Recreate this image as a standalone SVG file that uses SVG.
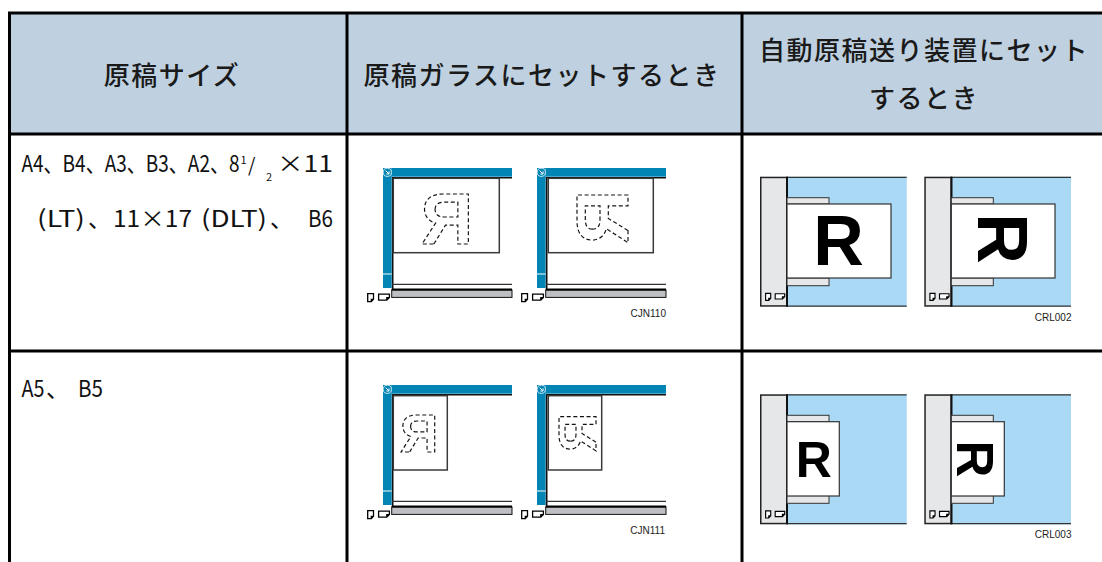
<svg xmlns="http://www.w3.org/2000/svg" width="1102" height="562" viewBox="0 0 1102 562">
<style>
.hd{font-family:"Noto Sans CJK JP","Noto Sans",sans-serif;font-size:26px;font-weight:500;fill:#1a1a1a;letter-spacing:1.5px;text-anchor:middle}
.cell{font-family:"Noto Sans CJK JP","Noto Sans",sans-serif;font-size:23px;fill:#111}
.grid{stroke:#000;stroke-width:3;fill:none}
.code{font-family:"Liberation Sans",Arial,sans-serif;font-size:10px;fill:#222;text-anchor:end}
.gb{fill:#0085b5}
.doc{fill:#fff;stroke:#3a3a3a;stroke-width:1.5}
.dash{font-family:"Liberation Sans",Arial,sans-serif;font-weight:bold;fill:#fff;stroke:#111;stroke-width:1.2;stroke-dasharray:4 2.6;text-anchor:middle}
.solid{font-family:"Liberation Sans",Arial,sans-serif;font-weight:bold;fill:#000;text-anchor:middle}
.ab{fill:#a9d9f5}
.panel{fill:#e6e7e9;stroke:#222;stroke-width:1.5}
.strip{fill:#e6e7e9;stroke:#333;stroke-width:1}
.paper{fill:#fff;stroke:#333;stroke-width:1.2}
.ico{fill:#fff;stroke:#000;stroke-width:1.3}
</style>
<defs>
<filter id="gray" x="0" y="0" width="1" height="1" color-interpolation-filters="sRGB">
<feColorMatrix type="saturate" values="0"/>
</filter>
<g id="icons">
<path class="ico" d="M0.7,0.7 H6.5 V6.3 L4.3,8.7 H0.7 Z M6.5,6.3 H4.3 V8.7"/>
<path class="ico" d="M11.6,1.2 H22.4 V4.6 L19.8,7.2 H11.6 Z M22.4,4.6 H19.8 V7.2"/>
</g>
<g id="glass">
<rect class="gb" x="0" y="0" width="8.7" height="120"/>
<rect class="gb" x="8.7" y="0" width="120.3" height="8.7"/>
<path d="M9.7,121 V9.7 H129" fill="none" stroke="#111" stroke-width="1.6"/>
<line x1="0" y1="106" x2="8.7" y2="106" stroke="#fff" stroke-width="1"/>
<line x1="9" y1="116.3" x2="129" y2="116.3" stroke="#333" stroke-width="1.2"/>
<rect x="8.7" y="122" width="120.3" height="7.4" fill="#bdbfc2" stroke="#111" stroke-width="1"/>
<line x1="8.7" y1="121.6" x2="129" y2="121.6" stroke="#000" stroke-width="2"/>
<circle cx="4.3" cy="4.3" r="4.1" fill="#0085b5" stroke="#fff" stroke-width="0.8"/>
<path d="M2.6,2.6 L5.8,5.8 M6,3.4 V6 H3.4" stroke="#fff" stroke-width="1" fill="none"/>
<use href="#icons" x="-16" y="125"/>
</g>
<g id="adf">
<rect class="ab" x="27" y="0" width="119.7" height="130"/>
<path d="M27,0.6 H146.7 M27,129.4 H146.7" stroke="#333" stroke-width="1.2"/>
<rect class="panel" x="0.75" y="0.75" width="26.5" height="128.5"/>
<line x1="27" y1="0" x2="27" y2="130" stroke="#111" stroke-width="2"/>
<rect class="strip" x="27" y="21" width="42" height="6.3"/>
<rect class="strip" x="27" y="101.3" width="42" height="7.7"/>
<use href="#icons" transform="translate(5,116) scale(0.88)"/>
</g>
</defs>

<g id="table">
<rect x="9.5" y="13" width="1092.5" height="121" fill="#bfd1e0"/>
<path class="grid" d="M8,13 H1102 M8,134 H1102 M8,351 H1102 M9.5,11.5 V562 M347,11.5 V562 M742,11.5 V562"/>
</g>

<g id="header">
<text class="hd" x="172" y="85">原稿サイズ</text>
<text class="hd" x="542" y="85">原稿ガラスにセットするとき</text>
<text class="hd" x="924" y="60">自動原稿送り装置にセット</text>
<text class="hd" x="924" y="108">するとき</text>
</g>

<g id="row1">
<text class="cell"><tspan x="21.5" y="172" textLength="218" lengthAdjust="spacingAndGlyphs">A4、B4、A3、B3、A2、8</tspan><tspan x="240.5" y="164" font-size="11">1</tspan><tspan x="248" y="172" font-size="19">/</tspan><tspan x="266" y="181" font-size="11">2</tspan><tspan x="277" y="172" textLength="56" lengthAdjust="spacingAndGlyphs">×11</tspan></text>
<text class="cell"><tspan x="37" y="227" textLength="48" lengthAdjust="spacingAndGlyphs">(LT)</tspan><tspan x="88" y="227">、</tspan><tspan x="113" y="227" textLength="79" lengthAdjust="spacingAndGlyphs">11×17</tspan><tspan x="201" y="227" textLength="66" lengthAdjust="spacingAndGlyphs">(DLT)</tspan><tspan x="270" y="227">、</tspan><tspan x="308" y="227" textLength="25" lengthAdjust="spacingAndGlyphs">B6</tspan></text>

<g id="glass-r1a">
<use href="#glass" x="383" y="168"/>
<rect class="doc" x="393.3" y="178.3" width="106" height="74.4"/>
<g filter="url(#gray)"><text class="dash" font-size="73" transform="translate(446.8,218) scale(-1,1)" x="0" y="26.2">R</text></g>
</g>
<g id="glass-r1b">
<use href="#glass" x="537" y="168"/>
<rect class="doc" x="548.3" y="178.3" width="105" height="74.4"/>
<g filter="url(#gray)"><text class="dash" font-size="75" transform="translate(600.8,217.2) rotate(-90) scale(-1,1)" x="0" y="26.8">R</text></g>
</g>
<text class="code" x="666" y="317">CJN110</text>

<g id="adf-r1a">
<use href="#adf" x="760" y="176.7"/>
<rect class="paper" x="787" y="204" width="104" height="74"/>
<text class="solid" font-size="70" x="838.5" y="265">R</text>
</g>
<g id="adf-r1b">
<use href="#adf" x="924.3" y="176.7"/>
<rect class="paper" x="951.3" y="204" width="103.7" height="74"/>
<text class="solid" font-size="70" transform="translate(1002.5,238.5) rotate(90)" x="0" y="25">R</text>
</g>
<text class="code" x="1071.5" y="321">CRL002</text>
</g>

<g id="row2">
<text class="cell"><tspan x="21.5" y="397" textLength="23" lengthAdjust="spacingAndGlyphs">A5</tspan><tspan x="46" y="397">、</tspan><tspan x="78" y="397" textLength="25" lengthAdjust="spacingAndGlyphs">B5</tspan></text>

<g id="glass-r2a">
<use href="#glass" x="383" y="385"/>
<rect class="doc" x="393.3" y="395.7" width="54" height="74.3"/>
<g filter="url(#gray)"><text class="dash" font-size="53" transform="translate(419.2,432.5) scale(-1,1)" x="0" y="19">R</text></g>
</g>
<g id="glass-r2b">
<use href="#glass" x="537" y="385"/>
<rect class="doc" x="548.3" y="395.7" width="53.4" height="74.3"/>
<g filter="url(#gray)"><text class="dash" font-size="54" transform="translate(576.7,432.5) rotate(-90) scale(-1,1)" x="0" y="19.3">R</text></g>
</g>
<text class="code" x="665" y="534">CJN111</text>

<g id="adf-r2a">
<use href="#adf" x="760" y="394.3"/>
<rect class="paper" x="787" y="421.7" width="52.3" height="74.3"/>
<text class="solid" font-size="50" x="813.7" y="477.3">R</text>
</g>
<g id="adf-r2b">
<use href="#adf" x="924.3" y="394.3"/>
<rect class="paper" x="951.3" y="421.7" width="53" height="74.3"/>
<text class="solid" font-size="51" transform="translate(975.7,458.8) rotate(90)" x="0" y="18.3">R</text>
</g>
<text class="code" x="1071.5" y="538">CRL003</text>
</g>
</svg>
